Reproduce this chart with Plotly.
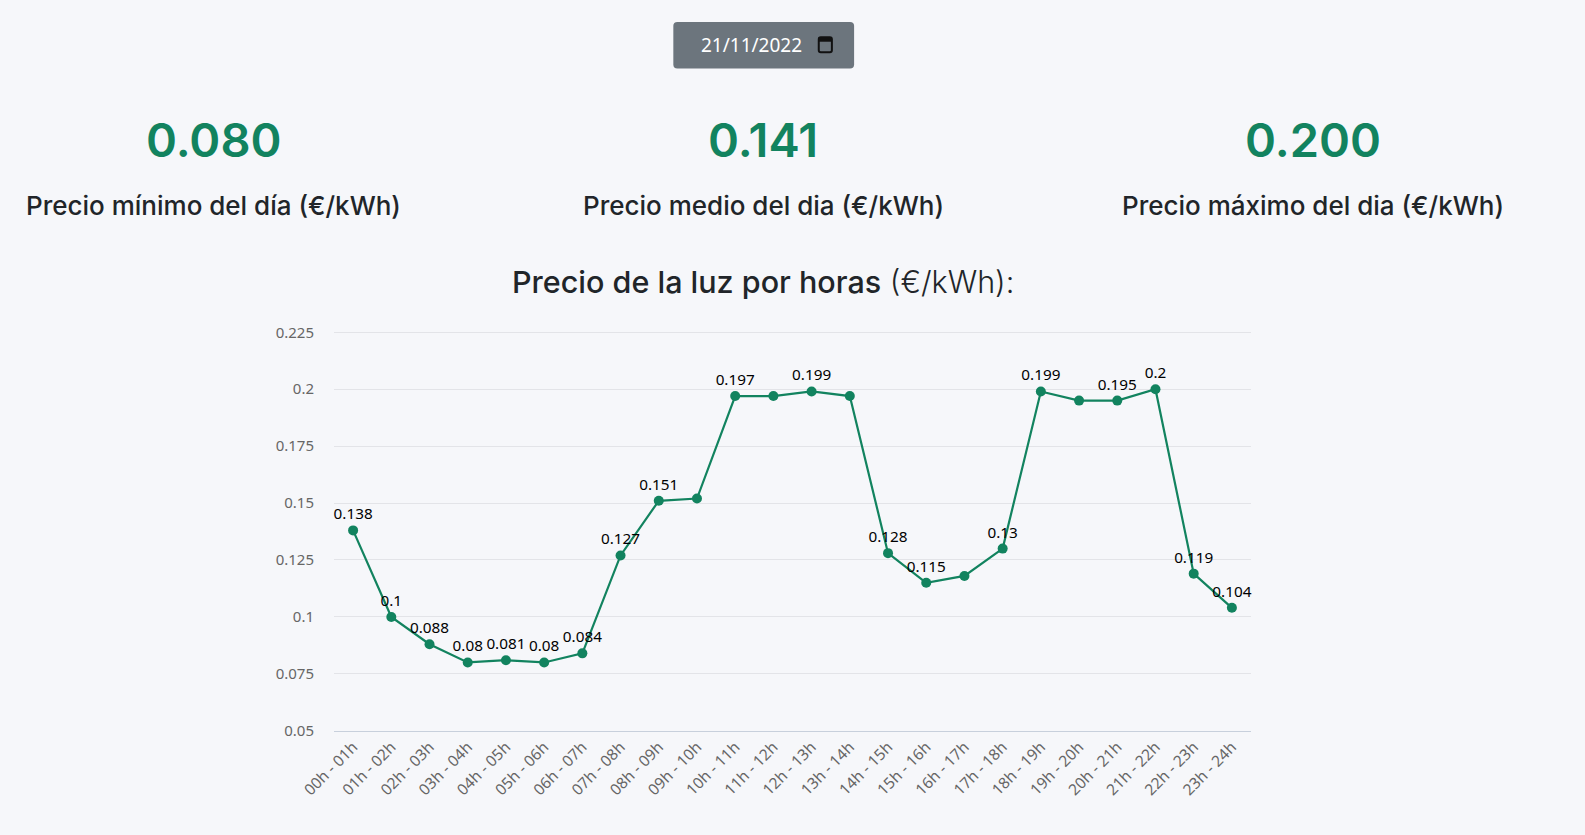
import plotly.graph_objects as go

# horas del dia y precio de la luz (EUR/kWh)
horas = ["%02dh - %02dh" % (h, h + 1) for h in range(24)]
precios = [0.138, 0.100, 0.088, 0.080, 0.081, 0.080, 0.084, 0.127,
           0.151, 0.152, 0.197, 0.197, 0.199, 0.197, 0.128, 0.115,
           0.118, 0.130, 0.199, 0.195, 0.195, 0.200, 0.119, 0.104]
# etiquetas que el grafico original deja visibles
visible = [1, 1, 1, 1, 1, 1, 1, 1,
           1, 0, 1, 0, 1, 0, 1, 1,
           0, 1, 1, 0, 1, 1, 1, 1]
y_ticks = [0.05, 0.075, 0.1, 0.125, 0.15, 0.175, 0.2, 0.225]
fecha = "21/11/2022"

VERDE = "#12835f"
TEXTO = "#212529"
FONDO = "#f6f7fa"

W, H = 1585, 835
S = 1585 / 1568                     # medidas tomadas sobre la captura reducida
Y0, Y1 = 0.0499, 0.226
L, R, B = 330, 1238, 723           # area del grafico (px de la captura)
T = B - (Y1 - Y0) * (723 - 329) / (0.225 - 0.05)   # 0.225 queda en y=329


def px(x):
    return (x - L) / (R - L)


def py(y):
    return (B - y) / (B - T)


etiquetas = [("%.3f" % p).rstrip("0").rstrip(".") if v else "" for p, v in zip(precios, visible)]

fig = go.Figure()
fig.add_trace(go.Scatter(
    x=horas, y=precios, mode="lines+markers+text",
    line=dict(color=VERDE, width=2.2),
    marker=dict(color=VERDE, size=10),
    text=etiquetas, textposition="top center",
    textfont=dict(family="Noto Sans", size=15.3, color="#000"),
    cliponaxis=False, hoverinfo="x+y"))

anns = []
# resumen del dia
resumen = [(min(precios), "Precio mínimo del día (€/kWh)", 211),
           (sum(precios) / len(precios), "Precio medio del dia (€/kWh)", 755),
           (max(precios), "Precio máximo del dia (€/kWh)", 1299)]
for val, txt, cx in resumen:
    anns.append(dict(x=px(cx), y=py(138), text="%.3f" % val,
                     font=dict(family="Inter", size=47, color=VERDE, weight=600)))
    anns.append(dict(x=px(cx), y=py(203), text=txt,
                     font=dict(family="Inter", size=26, color=TEXTO, weight=500)))

anns.append(dict(x=px(755), y=py(279),
                 text="<span style='font-weight:500'>Precio de la luz por horas</span> "
                      "<span style='font-weight:300'>(€/kWh):</span>",
                 font=dict(family="Inter", size=30.5, color=TEXTO)))
anns.append(dict(x=px(743), y=py(45), text=fecha,
                 font=dict(family="Noto Sans", size=19, color="white")))
for a in anns:
    a.update(xref="paper", yref="paper", showarrow=False, xanchor="center", yanchor="middle")


def caja_redonda(x0, y0, x1, y1, r):
    return ("M %f,%f L %f,%f Q %f,%f %f,%f L %f,%f Q %f,%f %f,%f "
            "L %f,%f Q %f,%f %f,%f L %f,%f Q %f,%f %f,%f Z") % (
        px(x0 + r), py(y0), px(x1 - r), py(y0), px(x1), py(y0), px(x1), py(y0 + r),
        px(x1), py(y1 - r), px(x1), py(y1), px(x1 - r), py(y1),
        px(x0 + r), py(y1), px(x0), py(y1), px(x0), py(y1 - r),
        px(x0), py(y0 + r), px(x0), py(y0), px(x0 + r), py(y0))


shapes = [
    dict(type="path", path=caja_redonda(666, 22, 845, 68, 4),
         fillcolor="#6c757d", line=dict(width=0)),
    # icono calendario
    dict(type="path", path=caja_redonda(810, 37, 823, 52, 2),
         fillcolor="rgba(0,0,0,0)", line=dict(color="#111", width=2)),
    dict(type="rect", x0=px(810), x1=px(823), y0=py(37), y1=py(41.5),
         fillcolor="#111", line=dict(width=0)),
]
for s in shapes:
    s.update(xref="paper", yref="paper", layer="above")

fig.update_layout(
    width=W, height=H,
    margin=dict(l=L * S, r=W - R * S, t=T * S, b=H - B * S, pad=0),
    paper_bgcolor=FONDO, plot_bgcolor=FONDO,
    showlegend=False,
    annotations=anns, shapes=shapes,
    font=dict(family="Noto Sans", size=15, color="#666"),
)
fig.update_xaxes(range=[-0.5, 23.5], showgrid=False, tickangle=-45, ticks="", showline=True,
                 linecolor="#c8d0dc", linewidth=1,
                 tickfont=dict(family="Noto Sans", size=15.5, color="#666"))
fig.update_yaxes(range=[Y0, Y1], tickvals=y_ticks, ticktext=[str(t) for t in y_ticks],
                 gridcolor="#e3e4e8", gridwidth=1, zeroline=False, ticks="",
                 ticklabelstandoff=19,
                 tickfont=dict(family="Noto Sans", size=15, color="#666"))

fig.write_html("out.html", config={"displayModeBar": False},
               post_script="document.body.style.margin='0';document.body.style.overflow='hidden';")
